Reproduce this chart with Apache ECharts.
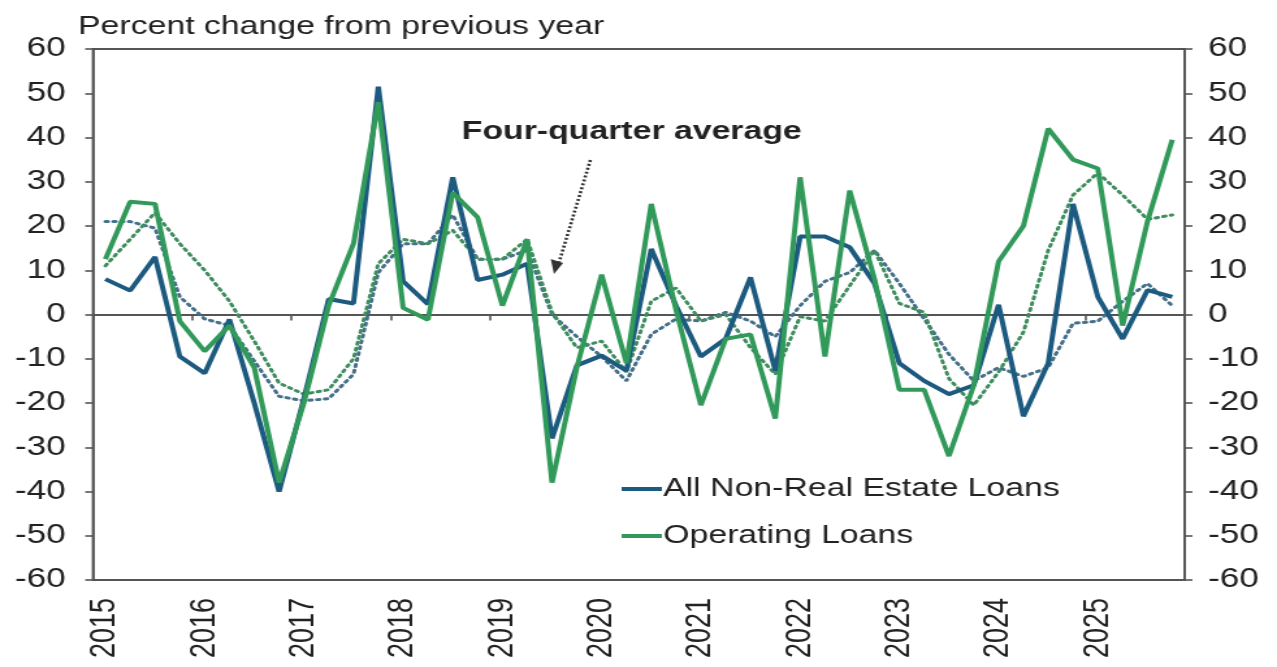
<!DOCTYPE html>
<html>
<head>
<meta charset="utf-8">
<script src="https://cdn.jsdelivr.net/npm/echarts@6/dist/echarts.min.js"></script>
<style>
  html, body { margin: 0; padding: 0; background: #fff; overflow: hidden; }
  /* the source picture is stretched sideways, so the chart is drawn narrower and widened */
  #chart { width: 982px; height: 667px; transform: scaleX(1.3004); transform-origin: 0 0; }
</style>
</head>
<body>
<div id="chart"></div>
<script>
// quarterly, 2015 Q1 .. 2025 Q4
const years = ['2015', '2016', '2017', '2018', '2019', '2020', '2021', '2022', '2023', '2024', '2025'];
const quarters = years.flatMap(y => ['Q1', 'Q2', 'Q3', 'Q4'].map(q => y + ' ' + q));

// percent change from previous year
const nonRealEstate = [8, 5.4, 13, -9.5, -13.3, -1.1, -20, -40, -19, 3.5, 2.5, 51.5,
  7.5, 2.3, 31, 7.8, 9, 11.5, -28, -11.5, -9.3, -12.7, 14.8, 2,
  -9.5, -5.5, 8.4, -12.7, 17.6, 17.6, 15.2, 7, -11, -15, -18, -16,
  2.2, -23, -11, 25, 4, -5.5, 5.5, 4];
const operating = [12.5, 25.5, 25, -1.5, -8.3, -2.5, -12, -38, -20, 2, 16, 48,
  1.5, -1.2, 27.5, 22, 2, 17, -38, -12, 9, -11, 25, 1,
  -20.5, -5.5, -4.5, -23.5, 31, -9.5, 28, 8, -17, -17, -32, -16,
  12, 20, 42, 35, 33, -2.5, 21, 39.5];

// four-quarter averages (dotted)
const nonRealEstateAvg = [21, 21, 19.5, 4, -1, -2.5, -10.5, -18.5, -19.5, -19, -13.5, 9.5,
  16, 16, 22.5, 12.5, 12.5, 14.5, 0, -5, -9.5, -15, -4.5, -1,
  -1.5, 0.5, -1.5, -5, 2, 7.5, 9.5, 14.5, 7, -1, -9, -15,
  -12, -14, -12, -2, -1.5, 3, 7, 2];
const operatingAvg = [11, 17, 23, 16, 10, 3, -6, -15.5, -18, -17, -10, 11.5,
  17, 16, 19, 12.5, 12.5, 17, 0.5, -7.5, -6, -13, 3, 6,
  -1.5, 0, -7.5, -13.5, -0.5, -1.5, 6.5, 14.5, 2.5, 0.5, -14.5, -20.5,
  -13, -4, 14.5, 27, 32, 27, 21.5, 22.5];

const blue = '#1c5a80';
const green = '#31995a';
const blueDot = '#44708a';
const greenDot = '#3f8d5f';
const axisColor = '#555';
const textColor = '#222';
const font = 'Liberation Sans, Arial, sans-serif';

const chart = echarts.init(document.getElementById('chart'));

const yAxisBase = {
  type: 'value',
  min: -60,
  max: 60,
  interval: 10,
  splitLine: { show: false },
  axisLine: { show: true, lineStyle: { color: axisColor, width: 1.6 } },
  axisTick: { show: true, length: 6, lineStyle: { color: axisColor, width: 1.6 } },
};

chart.setOption({
  animation: false,
  backgroundColor: '#fff',
  textStyle: { fontFamily: font },
  title: {
    text: 'Percent change from previous year',
    left: 55,
    top: 9,
    textStyle: { fontSize: 26, fontWeight: 'normal', color: textColor, fontFamily: font },
  },
  grid: {
    left: 71.5, right: 71, top: 49, bottom: 87,
    show: true, borderColor: axisColor, borderWidth: 1.8,
  },
  legend: {
    data: ['All Non-Real Estate Loans', 'Operating Loans'],
    orient: 'vertical',
    left: 473,
    top: 471,
    icon: 'rect',
    itemWidth: 31,
    itemHeight: 4,
    itemGap: 21,
    textStyle: { fontSize: 26, color: textColor, fontFamily: font, padding: [0, 0, 0, -4] },
  },
  xAxis: [
    {
      type: 'category',
      data: quarters,
      axisLine: { onZero: true, lineStyle: { color: axisColor, width: 2 } },
      axisTick: { show: true, interval: 3, length: 6, lineStyle: { color: axisColor, width: 1.6 } },
      axisLabel: { show: false },
    },
    {
      type: 'category',
      data: quarters,
      position: 'bottom',
      axisLine: { show: false, onZero: false },
      axisTick: { show: false },
      axisLabel: {
        interval: 3,
        rotate: 90,
        margin: 18,
        fontSize: 27,
        color: textColor,
        formatter: v => v.slice(0, 4),
      },
    },
  ],
  yAxis: [
    Object.assign({}, yAxisBase, {
      position: 'left',
      axisLabel: { fontSize: 27, color: textColor, margin: 21 },
    }),
    Object.assign({}, yAxisBase, {
      position: 'right',
      axisLabel: { fontSize: 27, color: textColor, margin: 18 },
    }),
  ],
  graphic: [
    {
      type: 'text',
      left: 355,
      top: 119,
      style: { text: 'Four-quarter average', fontSize: 26, fontWeight: 'bold', fill: textColor, fontFamily: font },
    },
    {
      type: 'line',
      shape: { x1: 454, y1: 160, x2: 430, y2: 262 },
      style: { stroke: '#333', lineWidth: 2.6, lineDash: [2, 2] },
    },
    {
      type: 'polygon',
      shape: { points: [[426, 274], [423.5, 259], [433, 263]] },
      style: { fill: '#333' },
    },
  ],
  series: [
    {
      name: 'All Non-Real Estate Loans (4Q avg)',
      type: 'line',
      data: nonRealEstateAvg,
      symbol: 'none',
      lineStyle: { color: blueDot, width: 3, type: [2, 4], cap: 'round' },
      z: 2,
    },
    {
      name: 'Operating Loans (4Q avg)',
      type: 'line',
      data: operatingAvg,
      symbol: 'none',
      lineStyle: { color: greenDot, width: 3, type: [2, 4], cap: 'round' },
      z: 2,
    },
    {
      name: 'All Non-Real Estate Loans',
      type: 'line',
      data: nonRealEstate,
      symbol: 'none',
      itemStyle: { color: blue },
      lineStyle: { color: blue, width: 4 },
      z: 3,
    },
    {
      name: 'Operating Loans',
      type: 'line',
      data: operating,
      symbol: 'none',
      itemStyle: { color: green },
      lineStyle: { color: green, width: 4 },
      z: 4,
    },
  ],
});

window.addEventListener('resize', () => chart.resize());
</script>
</body>
</html>
